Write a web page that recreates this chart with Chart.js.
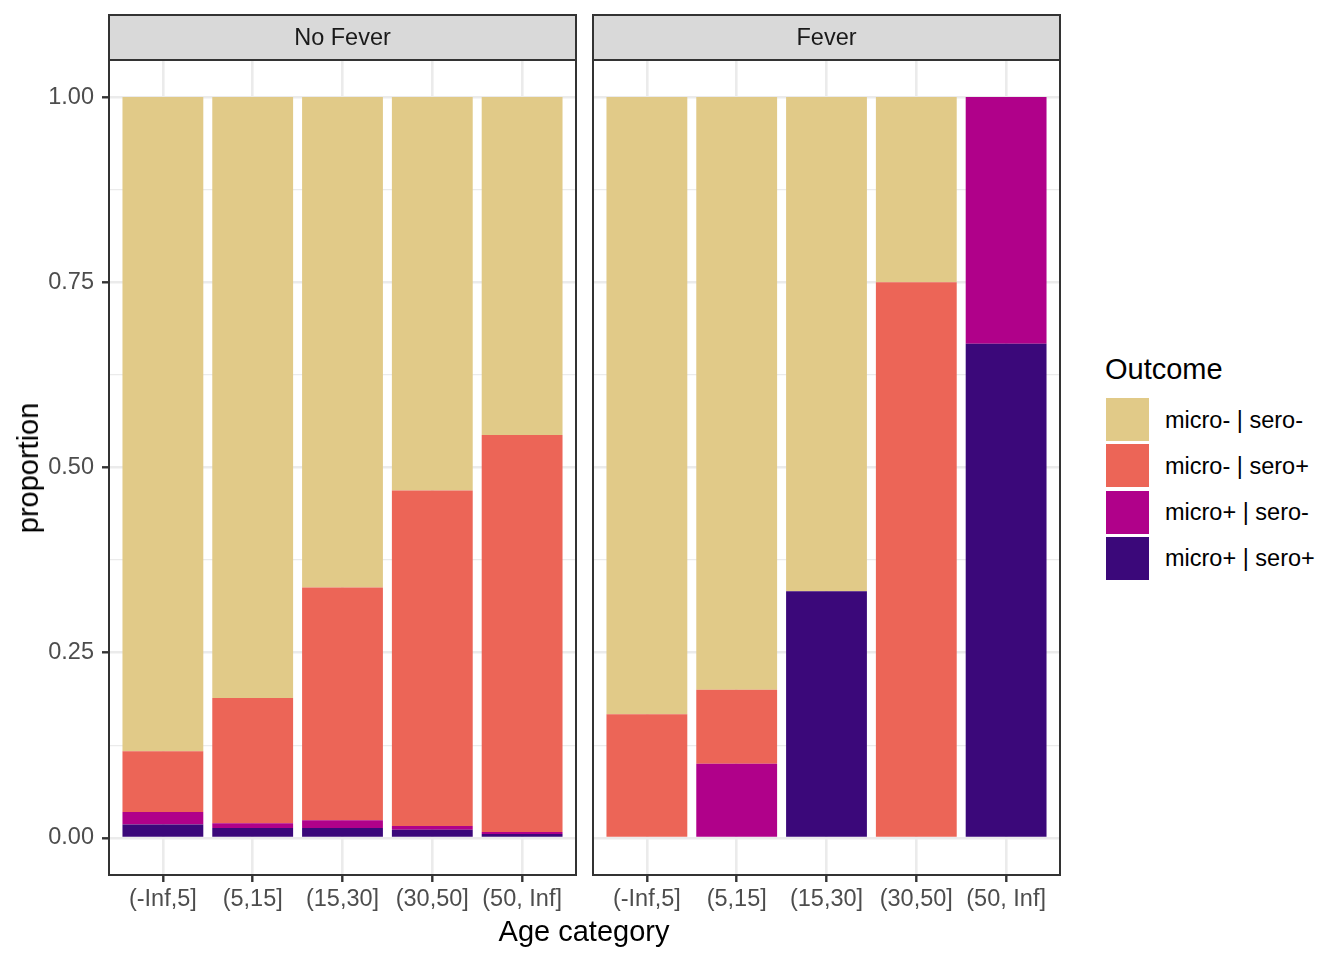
<!DOCTYPE html>
<html>
<head>
<meta charset="utf-8">
<script src="https://cdn.jsdelivr.net/npm/chart.js@4"></script>
<style>
  html, body { margin:0; padding:0; background:#ffffff; }
  body { width:1344px; height:960px; position:relative; overflow:hidden; font-family:"Liberation Sans", Arial, sans-serif; }
  .cv { position:absolute; top:0; }
  .txt { position:absolute; white-space:nowrap; color:#000; }
  .key { position:absolute; width:43px; height:43px; }
</style>
</head>
<body>
<div class="cv" style="left:0px;width:580px;height:960px;"><canvas id="c1" width="580" height="960"></canvas></div>
<div class="cv" style="left:585px;width:480px;height:960px;"><canvas id="c2" width="480" height="960"></canvas></div>

<div class="txt" id="xtitle" style="left:0;width:1168px;text-align:center;top:914px;font-size:29px;line-height:34px;">Age category</div>
<div class="txt" id="ytitle" style="left:28px;top:468px;font-size:29px;line-height:34px;transform:translate(-50%,-50%) rotate(-90deg);">proportion</div>

<div id="legend"></div>

<script>
// ---- data ----
const categories = ["(-Inf,5]", "(5,15]", "(15,30]", "(30,50]", "(50, Inf]"];
const panels = ["No Fever", "Fever"];
const outcomes = ["micro- | sero-", "micro- | sero+", "micro+ | sero-", "micro+ | sero+"];
const yTickValues = [0, 0.25, 0.5, 0.75, 1.0];
const yTickLabels = ["0.00", "0.25", "0.50", "0.75", "1.00"];
const yMinorValues = [0.125, 0.375, 0.625, 0.875];

// No Fever panel (segment proportions)
const noFever_microMinus_seroMinus = [0.883, 0.811, 0.662, 0.531, 0.456];
const noFever_microMinus_seroPlus  = [0.082, 0.169, 0.314, 0.453, 0.536];
const noFever_microPlus_seroMinus  = [0.017, 0.0065, 0.0105, 0.005, 0.0025];
const noFever_microPlus_seroPlus   = [0.018, 0.0135, 0.0135, 0.011, 0.0055];

// Fever panel
const fever_microMinus_seroMinus = [0.833, 0.800, 0.667, 0.250, 0.000];
const fever_microMinus_seroPlus  = [0.167, 0.100, 0.000, 0.750, 0.000];
const fever_microPlus_seroMinus  = [0.000, 0.100, 0.000, 0.000, 0.333];
const fever_microPlus_seroPlus   = [0.000, 0.000, 0.333, 0.000, 0.667];

const colors = ["#E1CA88", "#EC6557", "#B0018A", "#3B087A"];

// ---- chart building ----
const FONT = "'Liberation Sans', Arial, sans-serif";

function toXY(arr) { return arr.map((v, i) => ({ x: i + 1, y: v })); }

function makeDatasets(mmsm, mmsp, mpsm, mpsp) {
  // bottom-first stacking order
  const series = [[mpsp, 3], [mpsm, 2], [mmsp, 1], [mmsm, 0]];
  return series.map(([arr, k]) => ({
    label: outcomes[k],
    data: toXY(arr),
    backgroundColor: colors[k],
    borderWidth: 0,
    barPercentage: 0.9,
    categoryPercentage: 1.0,
    stack: "s"
  }));
}

const panelPlugin = {
  id: "panelDeco",
  afterDraw(chart, args, opts) {
    const ctx = chart.ctx;
    const a = chart.chartArea;
    ctx.save();
    const stripTop = 15;
    ctx.fillStyle = "#D9D9D9";
    ctx.fillRect(a.left, stripTop, a.right - a.left, a.top - stripTop);
    ctx.strokeStyle = "#333333";
    ctx.lineWidth = 2;
    ctx.strokeRect(a.left, stripTop, a.right - a.left, a.top - stripTop);
    ctx.fillStyle = "#1A1A1A";
    ctx.font = "23.5px " + FONT;
    ctx.textAlign = "center";
    ctx.textBaseline = "middle";
    ctx.fillText(opts.title, (a.left + a.right) / 2, (stripTop + a.top) / 2 + 1);
    ctx.strokeRect(a.left, a.top, a.right - a.left, a.bottom - a.top);
    ctx.restore();
  }
};

function makeChart(id, title, datasets, showY) {
  const ctx = document.getElementById(id);
  return new Chart(ctx, {
    type: "bar",
    data: { datasets },
    plugins: [panelPlugin],
    options: {
      responsive: false,
      animation: false,
      devicePixelRatio: 1,
      layout: { padding: { top: 60, right: showY ? 4 : 5, left: 0, bottom: 0 } },
      plugins: {
        legend: { display: false },
        tooltip: { enabled: false },
        panelDeco: { title }
      },
      scales: {
        x: {
          type: "linear",
          stacked: true,
          offset: false,
          min: 0.4,
          max: 5.6,
          afterBuildTicks(scale) { scale.ticks = categories.map((c, i) => ({ value: i + 1 })); },
          afterFit(scale) { scale.height = 85; },
          border: { display: false },
          grid: {
            offset: false,
            color: "#EBEBEB",
            lineWidth: 2.6,
            tickColor: "#333333",
            tickWidth: 2.4,
            tickLength: 7,
            drawTicks: true
          },
          ticks: {
            autoSkip: false,
            maxRotation: 0,
            padding: 3,
            color: "#4D4D4D",
            font: { family: FONT, size: 23.5 },
            callback: (v, i) => categories[i]
          }
        },
        y: {
          stacked: true,
          min: -0.05,
          max: 1.05,
          afterBuildTicks(scale) {
            const all = yTickValues.concat(yMinorValues).sort((p, q) => p - q);
            scale.ticks = all.map(v => ({ value: v }));
          },
          afterFit(scale) { scale.width = showY ? 109 : 8; },
          border: { display: false },
          grid: {
            color: "#EBEBEB",
            lineWidth: c => (yTickValues.includes(c.tick.value) ? 2.6 : 1.3),
            tickColor: c => (showY && yTickValues.includes(c.tick.value) ? "#333333" : "rgba(0,0,0,0)"),
            tickWidth: 2.4,
            tickLength: 7,
            drawTicks: showY
          },
          ticks: {
            display: showY,
            padding: 8,
            color: "#4D4D4D",
            font: { family: FONT, size: 23.5 },
            callback: (v) => {
              const k = yTickValues.indexOf(v);
              return k >= 0 ? yTickLabels[k] : "";
            }
          }
        }
      }
    }
  });
}

makeChart("c1", panels[0], makeDatasets(noFever_microMinus_seroMinus, noFever_microMinus_seroPlus, noFever_microPlus_seroMinus, noFever_microPlus_seroPlus), true);
makeChart("c2", panels[1], makeDatasets(fever_microMinus_seroMinus, fever_microMinus_seroPlus, fever_microPlus_seroMinus, fever_microPlus_seroPlus), false);

// ---- legend (HTML) ----
const lg = document.getElementById("legend");
const t = document.createElement("div");
t.className = "txt";
t.style.cssText = "left:1105px;top:352px;font-size:29px;line-height:34px;";
t.textContent = "Outcome";
lg.appendChild(t);
outcomes.forEach((name, i) => {
  const top = 398 + i * 46.3;
  const k = document.createElement("div");
  k.className = "key";
  k.style.left = "1106px";
  k.style.top = top + "px";
  k.style.background = colors[i];
  lg.appendChild(k);
  const l = document.createElement("div");
  l.className = "txt";
  l.style.cssText = "left:1165px;font-size:23.5px;line-height:28px;";
  l.style.top = (top + 7.5) + "px";
  l.textContent = name;
  lg.appendChild(l);
});
</script>
</body>
</html>
